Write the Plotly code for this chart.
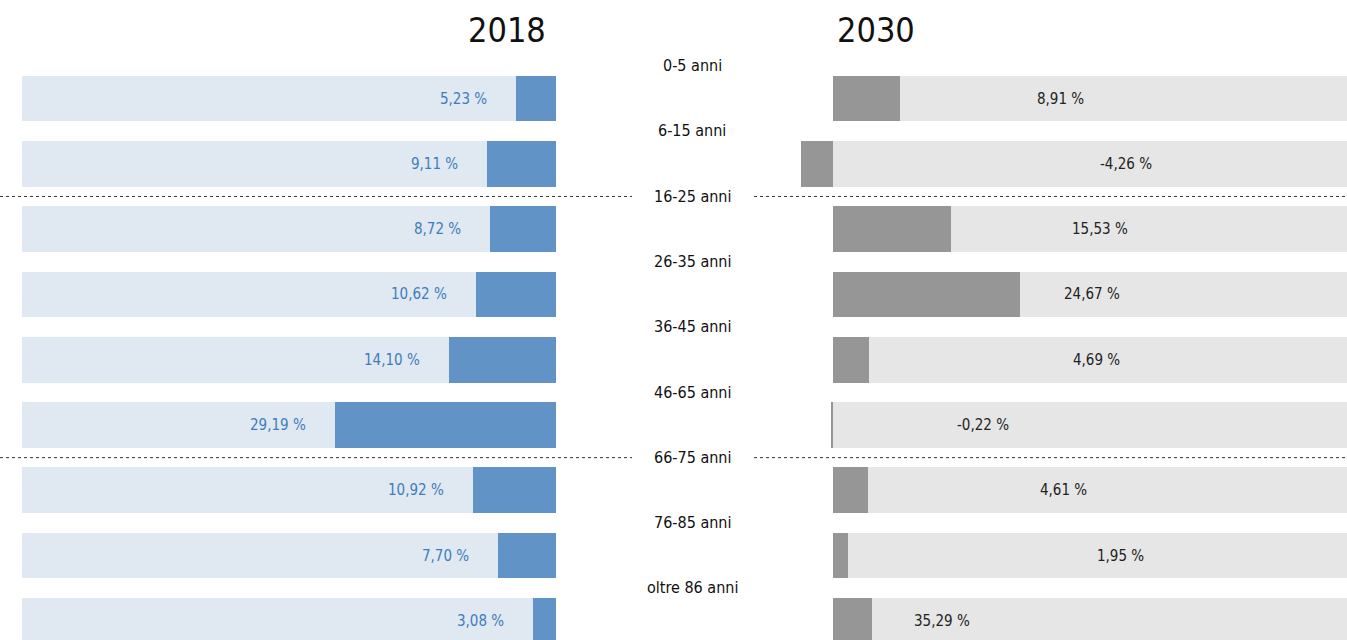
import plotly.graph_objects as go

# ---- data ----
categories = ["0-5 anni", "6-15 anni", "16-25 anni", "26-35 anni", "36-45 anni",
              "46-65 anni", "66-75 anni", "76-85 anni", "oltre 86 anni"]
values_2018 = [5.23, 9.11, 8.72, 10.62, 14.10, 29.19, 10.92, 7.70, 3.08]
labels_2018 = ["5,23 %", "9,11 %", "8,72 %", "10,62 %", "14,10 %", "29,19 %", "10,92 %", "7,70 %", "3,08 %"]
# bar lengths as drawn in the picture (last bar is drawn ~5 % long although labelled 35,29 %)
values_2030 = [8.91, -4.26, 15.53, 24.67, 4.69, -0.22, 4.61, 1.95, 5.1]
labels_2030 = ["8,91 %", "-4,26 %", "15,53 %", "24,67 %", "4,69 %", "-0,22 %", "4,61 %", "1,95 %", "35,29 %"]
titles = ["2018", "2030"]

# ---- styling / layout ----
W, H = 1347, 640
FONT = "DejaVu Sans Condensed, Liberation Sans Narrow, Arial Narrow, sans-serif"
PX_PER_PCT = 7.574
LEFT_MAX = (556 - 22) / PX_PER_PCT
RIGHT_MIN = -(833 - 740) / PX_PER_PCT
RIGHT_MAX = (W - 833) / PX_PER_PCT
# horizontal positions (paper px) of the 2030 value labels, as laid out in the picture
label_px_2030 = [1060, 1126, 1100, 1092, 1096, 983, 1063, 1120, 942]

fig = go.Figure()
fig.add_trace(go.Bar(y=categories, x=[LEFT_MAX] * len(categories), orientation="h",
                     marker=dict(color="#e0e8f1", line=dict(width=0)), width=0.70,
                     xaxis="x", yaxis="y", hoverinfo="skip", showlegend=False))
fig.add_trace(go.Bar(y=categories, x=values_2018, orientation="h",
                     marker=dict(color="#6193c6", line=dict(width=0)), width=0.70,
                     xaxis="x", yaxis="y", showlegend=False))
fig.add_trace(go.Bar(y=categories, x=[RIGHT_MAX] * len(categories), orientation="h",
                     marker=dict(color="#e6e6e6", line=dict(width=0)), width=0.70,
                     xaxis="x2", yaxis="y", hoverinfo="skip", showlegend=False))
fig.add_trace(go.Bar(y=categories, x=values_2030, orientation="h",
                     marker=dict(color="#969696", line=dict(width=0)), width=0.70,
                     xaxis="x2", yaxis="y", showlegend=False))

annotations = []
for c, v, t in zip(categories, values_2018, labels_2018):
    annotations.append(dict(x=v, y=c, xref="x", yref="y", text=t, showarrow=False,
                            xanchor="right", xshift=-27,
                            font=dict(family=FONT, size=15, color="#3d7dbd")))
for c, px, t in zip(categories, label_px_2030, labels_2030):
    annotations.append(dict(x=px / W, y=c, xref="paper", yref="y", text=t, showarrow=False,
                            xanchor="center",
                            font=dict(family=FONT, size=15, color="#222222")))
for c in categories:
    annotations.append(dict(x=692 / W, y=c, xref="paper", yref="y", text=c, showarrow=False,
                            xanchor="center", yshift=33,
                            font=dict(family=FONT, size=16, color="#111111")))
annotations.append(dict(x=548 / W, y=1 - 30 / H, xref="paper", yref="paper", text=titles[0],
                        showarrow=False, xanchor="right", yanchor="middle",
                        font=dict(family=FONT, size=34, color="#111111")))
annotations.append(dict(x=835 / W, y=1 - 30 / H, xref="paper", yref="paper", text=titles[1],
                        showarrow=False, xanchor="left", yanchor="middle",
                        font=dict(family=FONT, size=34, color="#111111")))

shapes = []
for yv in (1.5, 5.5):
    for x0, x1 in ((0, 632 / W), (754 / W, 1)):
        shapes.append(dict(type="line", xref="paper", yref="y", x0=x0, x1=x1, y0=yv, y1=yv,
                           line=dict(color="#333333", width=1, dash="dot")))

row0, step = 98.5, 65.3
fig.update_layout(
    width=W, height=H, margin=dict(l=0, r=0, t=0, b=0),
    paper_bgcolor="white", plot_bgcolor="white",
    barmode="overlay", bargap=0,
    xaxis=dict(domain=[22 / W, 556 / W], range=[LEFT_MAX, 0], visible=False, fixedrange=True),
    xaxis2=dict(domain=[740 / W, 1], range=[RIGHT_MIN, RIGHT_MAX], visible=False,
                anchor="y", fixedrange=True),
    yaxis=dict(type="category", categoryorder="array", categoryarray=categories,
               range=[(H - row0) / step, -row0 / step], visible=False, fixedrange=True),
    annotations=annotations, shapes=shapes,
)

fig.write_html("out.html", config={"displayModeBar": False},
               post_script="document.body.style.margin='0';document.body.style.overflow='hidden';")
